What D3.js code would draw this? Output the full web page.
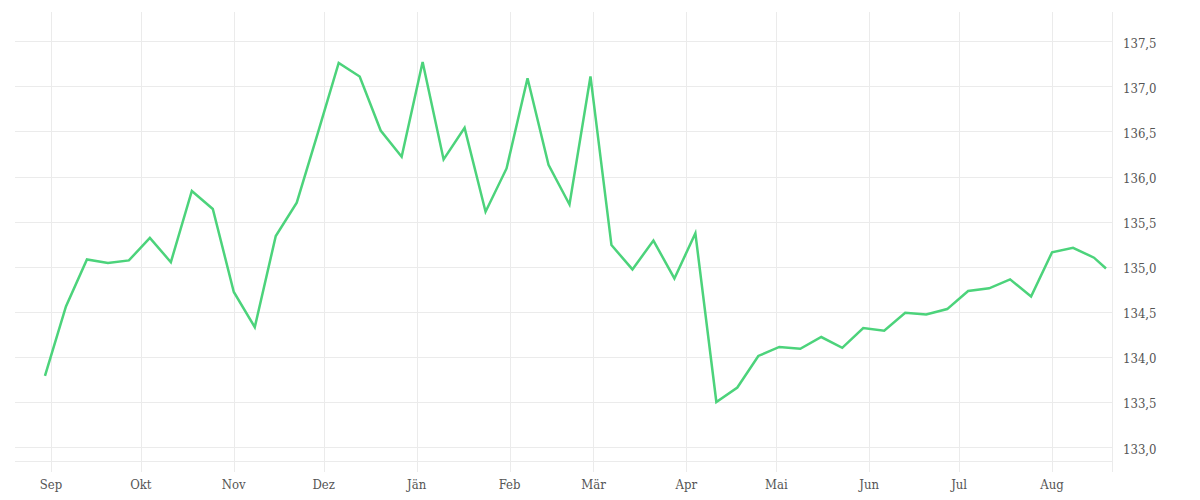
<!DOCTYPE html>
<html>
<head>
<meta charset="utf-8">
<script src="https://cdn.jsdelivr.net/npm/d3@7"></script>
<style>
  html, body { margin: 0; padding: 0; background: #fff; }
  svg { display: block; }
  .lbl { font-family: "DejaVu Serif Condensed", "DejaVu Serif", serif; font-stretch: condensed; font-size: 13px; fill: #555; }
</style>
</head>
<body>
<svg id="chart" width="1200" height="500"></svg>
<script>
// Weekly observation dates
const dates = [
  "2018-08-30","2018-09-06","2018-09-13","2018-09-20","2018-09-27","2018-10-04","2018-10-11","2018-10-18",
  "2018-10-25","2018-11-01","2018-11-08","2018-11-15","2018-11-22","2018-11-29","2018-12-06","2018-12-13",
  "2018-12-20","2018-12-27","2019-01-03","2019-01-10","2019-01-17","2019-01-24","2019-01-31","2019-02-07",
  "2019-02-14","2019-02-21","2019-02-28","2019-03-07","2019-03-14","2019-03-21","2019-03-28","2019-04-04",
  "2019-04-11","2019-04-18","2019-04-25","2019-05-02","2019-05-09","2019-05-16","2019-05-23","2019-05-30",
  "2019-06-06","2019-06-13","2019-06-20","2019-06-27","2019-07-04","2019-07-11","2019-07-18","2019-07-25",
  "2019-08-01","2019-08-08","2019-08-15","2019-08-19"
];
const values = [
  133.79, 134.56, 135.08, 135.04, 135.07, 135.32, 135.05, 135.84,
  135.64, 134.72, 134.33, 135.34, 135.71, 136.48, 137.26, 137.11,
  136.51, 136.22, 137.27, 136.19, 136.54, 135.61, 136.09, 137.09,
  136.13, 135.69, 137.11, 135.24, 134.97, 135.29, 134.87, 135.37,
  133.50, 133.66, 134.01, 134.11, 134.09, 134.22, 134.10, 134.32,
  134.29, 134.49, 134.47, 134.53, 134.73, 134.76, 134.86, 134.67,
  135.16, 135.21, 135.10, 134.98
];
const monthTicks = ["2018-09-01","2018-10-01","2018-11-01","2018-12-01","2019-01-01","2019-02-01",
                    "2019-03-01","2019-04-01","2019-05-01","2019-06-01","2019-07-01","2019-08-01"];
const monthLabels = ["Sep","Okt","Nov","Dez","Jän","Feb","Mär","Apr","Mai","Jun","Jul","Aug"];
const yTicks = [133.0, 133.5, 134.0, 134.5, 135.0, 135.5, 136.0, 136.5, 137.0, 137.5];

(function () {
  const parse = d3.utcParse("%Y-%m-%d");
  const data = dates.map((d, i) => ({ date: parse(d), value: values[i] }));

  const pLeft = 15, pRight = 1112, pTop = 12, pBottom = 461;
  const svg = d3.select("#chart");

  const x = d3.scaleUtc()
    .domain([parse("2018-08-20"), parse("2019-08-21")])
    .range([pLeft, pRight]);
  const y = d3.scaleLinear()
    .domain([132.845, 137.825])
    .range([pBottom, pTop]);

  const grid = "#ebebeb";

  svg.append("g").selectAll("line").data(yTicks).join("line")
    .attr("x1", pLeft).attr("x2", pRight)
    .attr("y1", d => Math.round(y(d)) + 0.5).attr("y2", d => Math.round(y(d)) + 0.5)
    .attr("stroke", grid).attr("stroke-width", 1);

  svg.append("line").attr("x1", pLeft).attr("x2", pRight)
    .attr("y1", pBottom + 0.5).attr("y2", pBottom + 0.5)
    .attr("stroke", grid);

  const tickDates = monthTicks.map(parse);
  svg.append("g").selectAll("line").data(tickDates).join("line")
    .attr("x1", d => Math.round(x(d)) + 0.5).attr("x2", d => Math.round(x(d)) + 0.5)
    .attr("y1", pTop).attr("y2", pBottom + 11)
    .attr("stroke", grid);

  svg.append("line").attr("x1", pRight + 0.5).attr("x2", pRight + 0.5)
    .attr("y1", pTop).attr("y2", pBottom + 11)
    .attr("stroke", grid);

  svg.append("g").selectAll("text").data(tickDates).join("text")
    .attr("class", "lbl")
    .attr("x", d => x(d)).attr("y", 489)
    .attr("text-anchor", "middle")
    .text((d, i) => monthLabels[i]);

  const fmt = v => d3.format(".1f")(v).replace(".", ",");
  svg.append("g").selectAll("text").data(yTicks).join("text")
    .attr("class", "lbl")
    .attr("x", 1123).attr("y", d => y(d))
    .attr("dy", "0.5em")
    .text(d => fmt(d));

  const line = d3.line().x(d => x(d.date)).y(d => y(d.value));
  svg.append("path").datum(data)
    .attr("d", line)
    .attr("fill", "none")
    .attr("stroke", "#4cd37b")
    .attr("stroke-width", 2.5)
    .attr("stroke-linejoin", "miter");
})();
</script>
</body>
</html>
